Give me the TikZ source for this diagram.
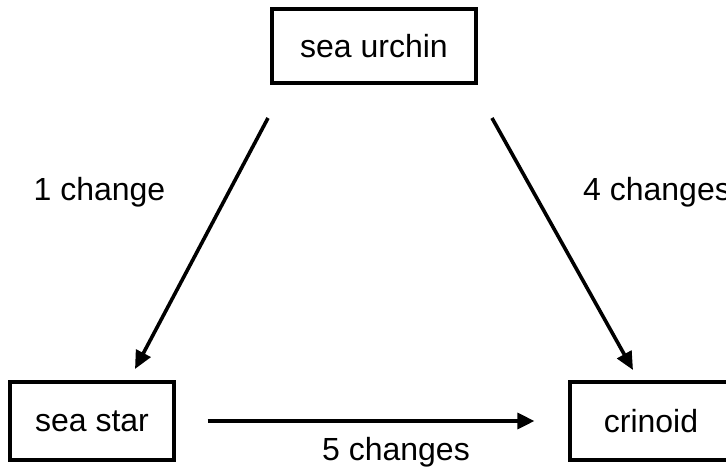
\documentclass[tikz,border=0pt]{standalone}
\usepackage{fontspec}
\setmainfont{Liberation Sans}
\usetikzlibrary{arrows.meta}

\begin{document}
\begin{tikzpicture}[x=1pt,y=-1pt,
  taxon/.style={draw=black, line width=3.2pt, minimum width=#1, inner sep=0pt, font=\fontsize{32}{36}\selectfont},
  label/.style={font=\fontsize{32}{36}\selectfont, inner sep=0pt},
  link/.style={line width=3.6pt, -{Triangle[length=18pt,width=16pt]}},
  flatlink/.style={line width=3.3pt, -{Triangle[length=17pt,width=16pt]}}
]
\useasboundingbox (0,0) rectangle (726,472);

% the three taxa
\node[taxon=204pt, minimum height=74pt] (urchin) at (374,46) {sea urchin};
\node[taxon=164pt, minimum height=78pt] (star) at (92,421) {sea star};
\node[taxon=162pt, minimum height=78pt] (crinoid) at (651,421) {crinoid};

% arrow end points
\coordinate (u1) at (268,118);
\coordinate (s1) at (135,369);
\coordinate (u2) at (492,118);
\coordinate (c1) at (633,370);

\draw[link] (u1) -- (s1);
\draw[link] (u2) -- (c1);
\draw[flatlink, shorten <=32pt, shorten >=34pt] (star.east) -- (crinoid.west);

% numbers of changes (the right-hand one runs off the edge)
\node[label] (l1) at (99.5,192) {1 change};
\node[label, anchor=west] (l4) at (583,192) {4 changes};
\node[label] (l5) at (396,452) {5 changes};
\end{tikzpicture}
\end{document}
